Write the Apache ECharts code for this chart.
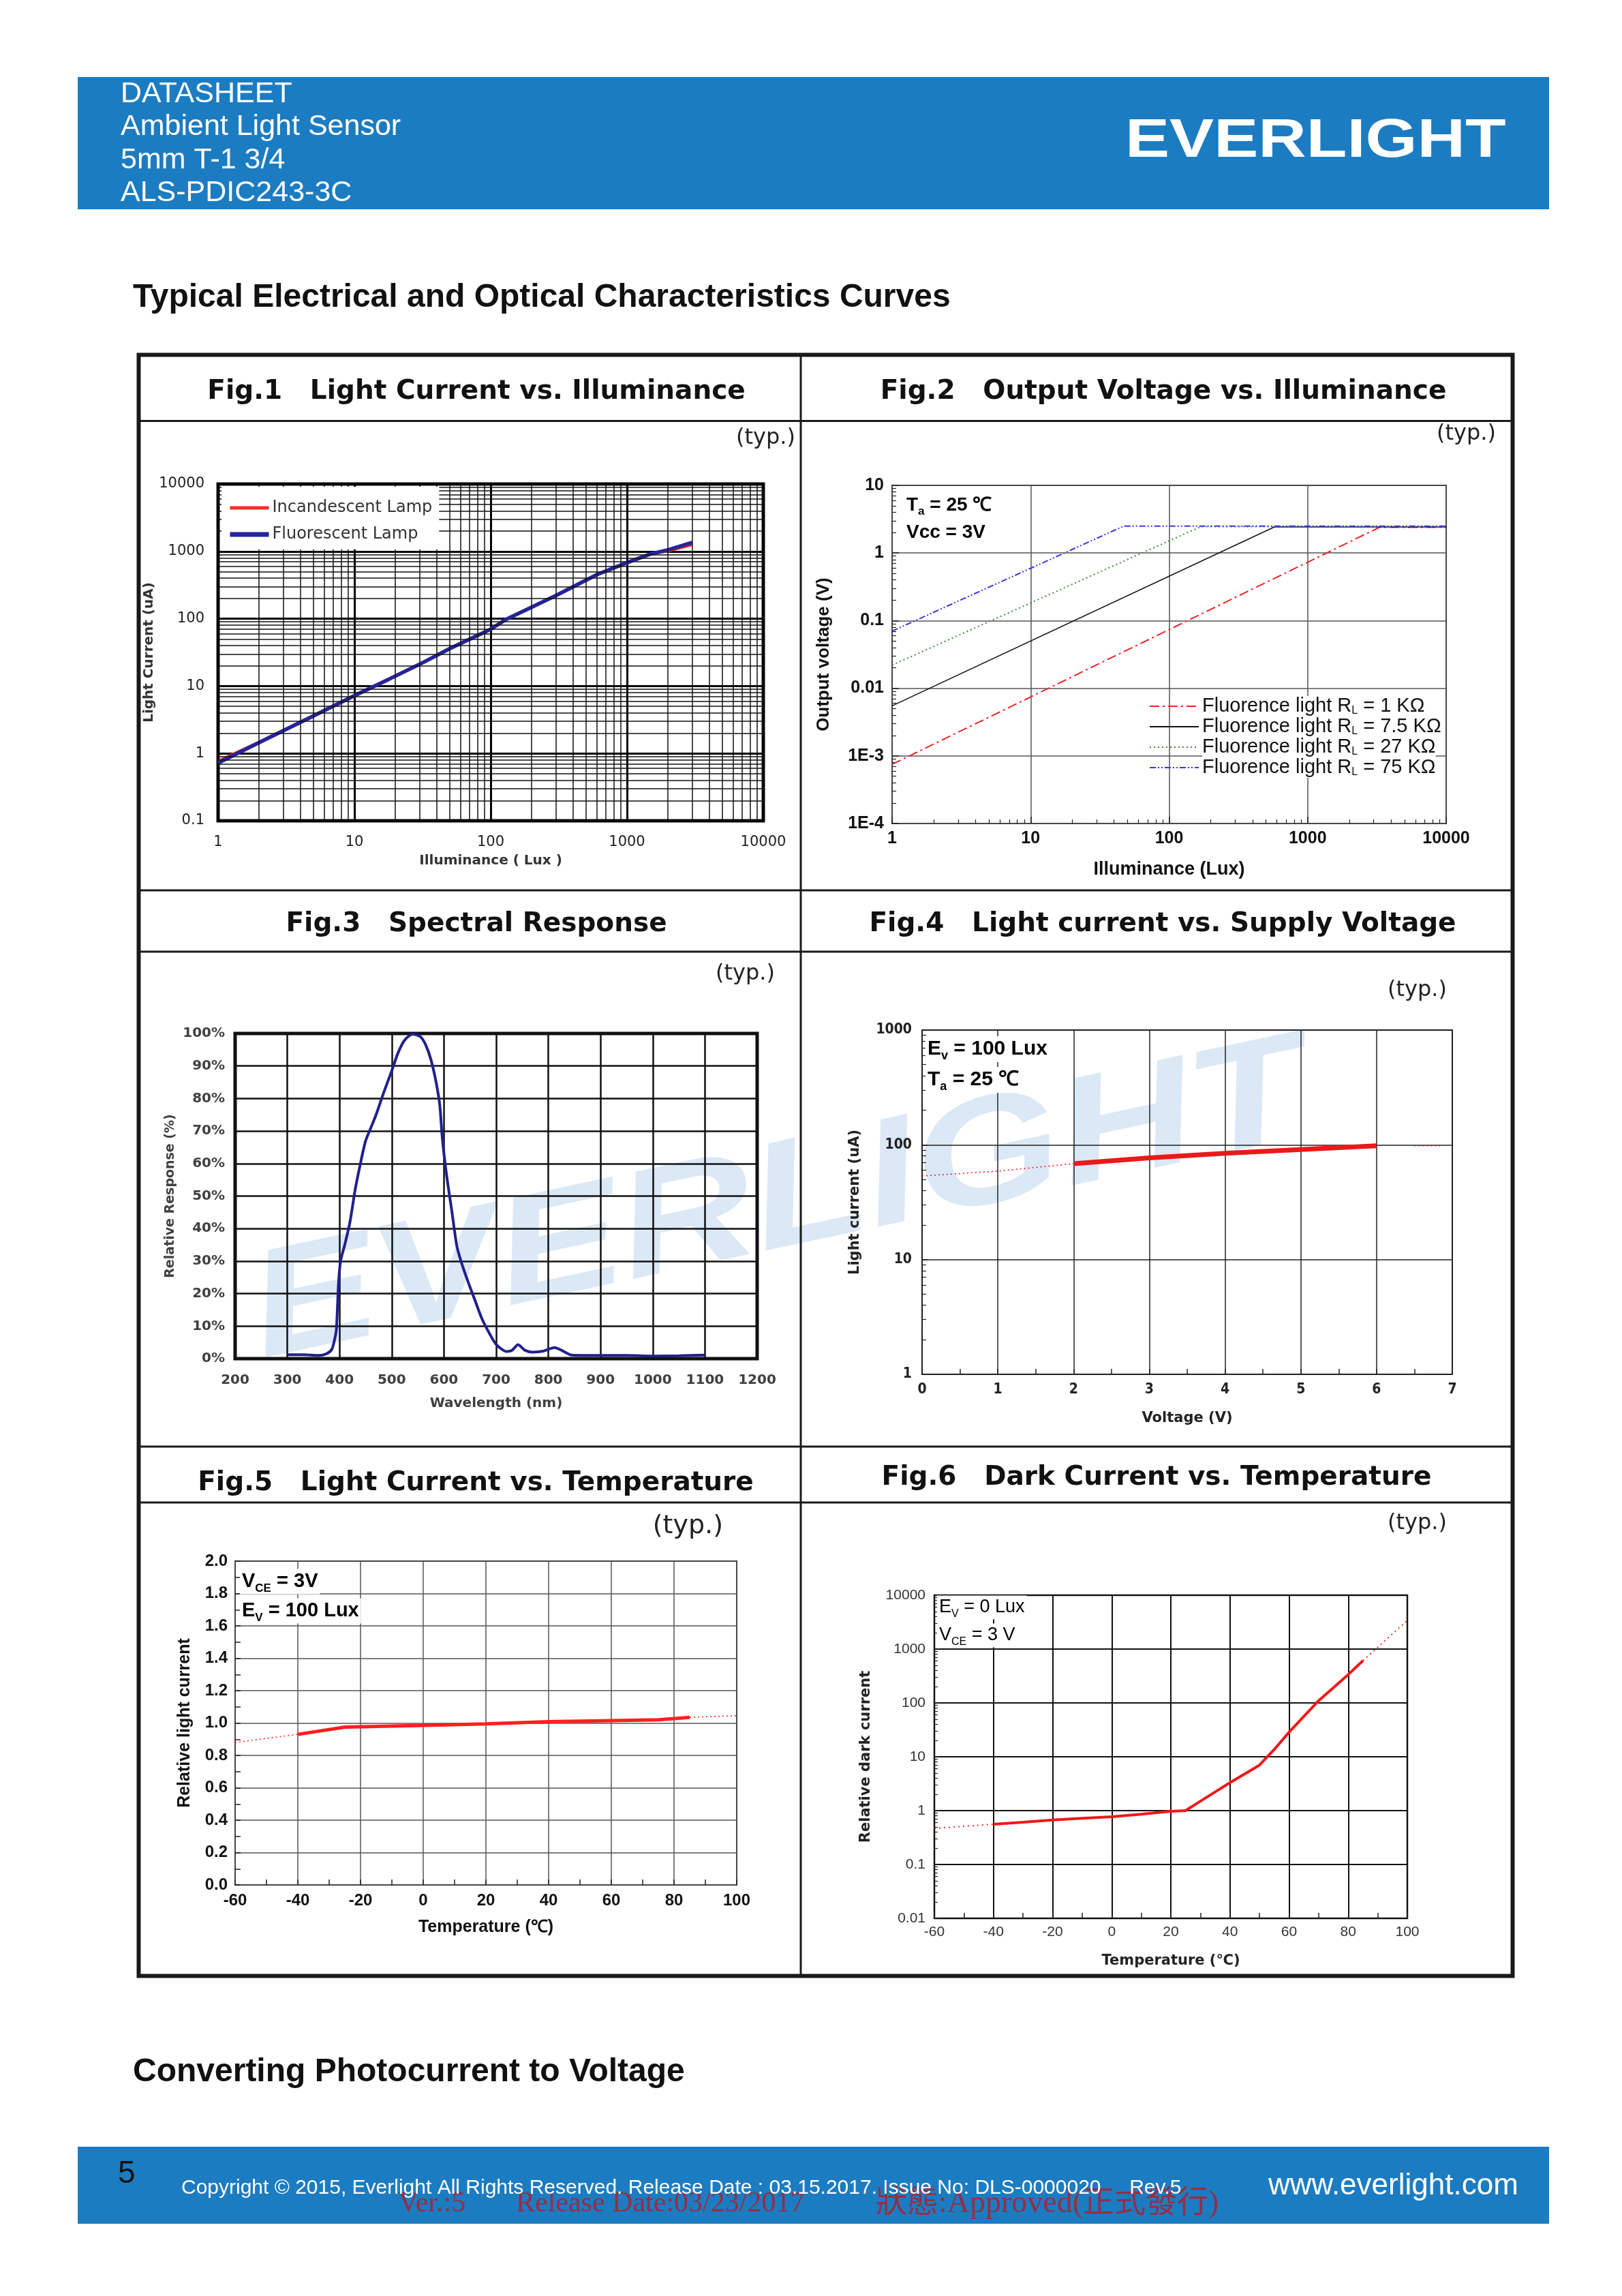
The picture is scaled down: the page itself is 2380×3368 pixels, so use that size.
<!DOCTYPE html>
<html><head><meta charset="utf-8">
<script src="https://cdn.jsdelivr.net/npm/echarts@6/dist/echarts.min.js"></script>
<style>html,body{margin:0;padding:0;background:#fff}#c{width:2380px;height:3368px}</style>
</head><body><div id="c"></div>
<script>
// ---------------- DATA ----------------
// Fig.1 Light current vs illuminance
const fig1Lux = [1, 2, 5, 10, 18, 30, 50, 100, 130, 300, 600, 1000, 1500, 2000, 3000];
const fig1Incandescent = [0.78, 1.5, 3.7, 7.4, 13, 21.5, 36.5, 71, 99, 222, 450, 690, 900, 1000, 1230];
const fig1Fluorescent = [0.72, 1.45, 3.6, 7.2, 12.7, 21, 36, 70, 98, 220, 450, 680, 920, 1050, 1350];
const fig1XLabels = ['1', '10', '100', '1000', '10000'];
const fig1YLabels = ['0.1', '1', '10', '100', '1000', '10000'];

// Fig.2 Output voltage vs illuminance
const fig2LuxRL1 = [1, 3300, 10000];
const fig2VoltRL1 = [0.00075, 2.4, 2.4];
const fig2LuxRL7_5 = [1, 575, 10000];
const fig2VoltRL7_5 = [0.0055, 2.43, 2.43];
const fig2LuxRL27 = [1, 169, 10000];
const fig2VoltRL27 = [0.022, 2.45, 2.45];
const fig2LuxRL75 = [1, 47, 10000];
const fig2VoltRL75 = [0.07, 2.5, 2.5];
const fig2Names = ['RL1', 'RL7.5', 'RL27', 'RL75'];
const fig2Resist = ['1 KΩ', '7.5 KΩ', '27 KΩ', '75 KΩ'];
const fig2XLabels = ['1', '10', '100', '1000', '10000'];
const fig2YLabels = ['1E-4', '1E-3', '0.01', '0.1', '1', '10'];

// Fig.3 Spectral response
const fig3Wavelength = [300, 330, 360, 375, 385, 390, 394, 398, 402, 410, 420, 430, 440, 450, 460, 470, 485, 500, 512, 525, 540, 555, 565, 575, 585, 592, 597, 605, 615, 625, 635, 647, 660, 673, 687, 700, 720, 730, 742, 755, 770, 790, 812, 825, 845, 870, 900, 950, 1000, 1050, 1100];
const fig3Response = [1.2, 1.2, 1.0, 1.5, 2.8, 5.5, 9, 23, 30, 35, 42, 52, 60, 67, 71, 75, 82, 88.5, 94, 98, 99.8, 99, 96.5, 92, 85, 78, 67.6, 56.5, 45.5, 34.4, 28.8, 23.3, 17.7, 12.2, 7.8, 4.4, 2.2, 2.5, 4.3, 2.6, 2.0, 2.3, 3.4, 2.6, 1.1, 1.0, 1.0, 1.0, 0.8, 0.9, 1.1];

// Fig.4 Light current vs supply voltage
const fig4Voltage = [2, 3, 4, 5, 6];
const fig4Current = [68.5, 77, 84.5, 91, 98];
const fig4DotVoltageL = [0, 1, 2];
const fig4DotCurrentL = [53.5, 59, 68.5];
const fig4DotVoltageR = [6.5, 6.85];
const fig4DotCurrentR = [98, 98];
const fig4YLabels = ['1', '10', '100', '1000'];

// Fig.5 Light current vs temperature
const fig5Temp = [-40, -25, 0, 20, 40, 60, 75, 85];
const fig5Rel = [0.93, 0.975, 0.985, 0.995, 1.008, 1.015, 1.02, 1.035];
const fig5DotTempL = [-60, -40];
const fig5DotRelL = [0.88, 0.93];
const fig5DotTempR = [85, 100];
const fig5DotRelR = [1.035, 1.045];

// Fig.6 Dark current vs temperature
const fig6Temp = [-40, -30, -20, -10, 0, 10, 20, 25, 30, 40, 50, 55, 60, 70, 80, 85];
const fig6Dark = [0.56, 0.61, 0.67, 0.72, 0.77, 0.86, 0.97, 1.0, 1.5, 3.3, 7.0, 13.7, 28.7, 110, 336, 610];
const fig6DotTempL = [-60, -40];
const fig6DotDarkL = [0.47, 0.56];
const fig6DotTempR = [85, 100];
const fig6DotDarkR = [610, 3400];
const fig6YLabels = ['0.01', '0.1', '1', '10', '100', '1000', '10000'];

// ---------------- HELPERS ----------------
const DV = "'DejaVu Sans', sans-serif";
const DVC = "'DejaVu Sans Condensed', 'DejaVu Sans', sans-serif";
const LS = "'Liberation Sans', Arial, sans-serif";
const BLUE = '#1c7cc1';

function zip(xs, ys) { return xs.map((x, i) => [x, ys[i]]); }
function logMinors(minExp, maxExp) {
  const out = [];
  for (let e = minExp; e < maxExp; e++) for (let m = 2; m <= 9; m++) out.push(+(m * Math.pow(10, e)).toPrecision(6));
  return out;
}
function logLabel(labels, minExp) { return v => { const s = labels[Math.round(Math.log10(v)) - minExp]; return s === undefined ? '' : s; }; }
function txt(x, y, text, font, fill, align, extra) {
  const a = align || 'left';
  return Object.assign({ type: 'text', x: x, y: y, silent: true, z: 100,
    style: { text: text, font: font, fill: fill, align: a, textAlign: a, verticalAlign: 'middle', textVerticalAlign: 'middle' } }, extra || {});
}
function richTxt(x, y, text, rich, bg) {
  return { type: 'text', x: x, y: y, silent: true, z: 100,
    style: { text: text, rich: rich, align: 'left', textAlign: 'left', verticalAlign: 'middle', textVerticalAlign: 'middle',
      backgroundColor: bg || 'transparent', padding: bg ? [0, 3, 0, 3] : 0 } };
}
function hline(y, x1, x2, w) { return { type: 'line', silent: true, z: 100, shape: { x1: x1, y1: y, x2: x2, y2: y }, style: { stroke: '#1a1a1a', lineWidth: w } }; }
function vline(x, y1, y2, w) { return { type: 'line', silent: true, z: 100, shape: { x1: x, y1: y1, x2: x, y2: y2 }, style: { stroke: '#1a1a1a', lineWidth: w } }; }

const axisName = (fam, size, color, weight) => ({ fontFamily: fam, fontSize: size, color: color, fontWeight: weight || 'bold' });

// ---------------- GRIDS ----------------
const grids = [
  { left: 320, top: 710, width: 800, height: 494, show: true, borderColor: '#111', borderWidth: 5, backgroundColor: 'transparent' },
  { left: 1309, top: 712, width: 813, height: 496, show: true, borderColor: '#222', borderWidth: 2, backgroundColor: 'transparent' },
  { left: 345, top: 1516, width: 766, height: 477, show: true, borderColor: '#111', borderWidth: 5, backgroundColor: 'transparent' },
  { left: 1353, top: 1511, width: 778, height: 505, show: true, borderColor: '#222', borderWidth: 2, backgroundColor: 'transparent' },
  { left: 345, top: 2290, width: 736, height: 475, show: true, borderColor: '#222', borderWidth: 2, backgroundColor: 'transparent' },
  { left: 1371, top: 2340, width: 694, height: 474, show: true, borderColor: '#222', borderWidth: 2.5, backgroundColor: 'transparent' }
].map(g => Object.assign({ outerBoundsMode: 'none', containLabel: false }, g));

const noLine = { show: false, onZero: false };

const xAxes = [
  { gridIndex: 0, type: 'log', logBase: 10, min: 1, max: 10000, axisLine: noLine, axisTick: { show: false },
    splitLine: { show: true, lineStyle: { color: '#000', width: 3 } },
    axisLabel: { formatter: logLabel(fig1XLabels, 0), fontFamily: DV, fontSize: 21, color: '#222', margin: 21 },
    name: 'Illuminance ( Lux )', nameLocation: 'middle', nameGap: 49, nameTextStyle: axisName(DV, 20, '#333') },
  { gridIndex: 1, type: 'log', logBase: 10, min: 1, max: 10000, axisLine: noLine,
    axisTick: { show: true, inside: true, length: 10, lineStyle: { color: '#222', width: 1.5 } },
    minorTick: { show: true, splitNumber: 9, length: 6, lineStyle: { color: '#222', width: 1.2 } },
    splitLine: { show: true, lineStyle: { color: '#555', width: 1.5 } },
    axisLabel: { formatter: logLabel(fig2XLabels, 0), fontFamily: LS, fontWeight: 'bold', fontSize: 25, color: '#111', margin: 10 },
    name: 'Illuminance (Lux)', nameLocation: 'middle', nameGap: 54, nameTextStyle: axisName(LS, 27, '#111') },
  { gridIndex: 2, type: 'value', min: 200, max: 1200, interval: 100, axisLine: noLine, axisTick: { show: false },
    splitLine: { show: true, lineStyle: { color: '#111', width: 2.5 } },
    axisLabel: { formatter: v => String(v), fontFamily: DV, fontWeight: 'bold', fontSize: 20, color: '#404040', margin: 22 },
    name: 'Wavelength (nm)', nameLocation: 'middle', nameGap: 56, nameTextStyle: axisName(DV, 20, '#404040') },
  { gridIndex: 3, type: 'value', min: 0, max: 7, interval: 1, axisLine: noLine,
    axisTick: { show: true, inside: true, length: 8, lineStyle: { color: '#222', width: 1.5 } },
    minorTick: { show: true, splitNumber: 2, length: 8, lineStyle: { color: '#222', width: 1.5 } },
    splitLine: { show: true, lineStyle: { color: '#222', width: 1.5 } },
    axisLabel: { fontFamily: DVC, fontWeight: 'bold', fontSize: 21, color: '#222', margin: 12 },
    name: 'Voltage (V)', nameLocation: 'middle', nameGap: 54, nameTextStyle: axisName(DV, 21, '#222') },
  { gridIndex: 4, type: 'value', min: -60, max: 100, interval: 20, axisLine: noLine,
    axisTick: { show: true, inside: true, length: 8, lineStyle: { color: '#222', width: 1.5 } },
    minorTick: { show: true, splitNumber: 2, length: 8, lineStyle: { color: '#222', width: 1.5 } },
    splitLine: { show: true, lineStyle: { color: '#555', width: 1.5 } },
    axisLabel: { fontFamily: LS, fontWeight: 'bold', fontSize: 24, color: '#111', margin: 11 },
    name: 'Temperature (℃)', nameLocation: 'middle', nameGap: 50, nameTextStyle: axisName(LS, 25, '#111') },
  { gridIndex: 5, type: 'value', min: -60, max: 100, interval: 20, axisLine: noLine,
    axisTick: { show: true, inside: true, length: 8, lineStyle: { color: '#222', width: 1.5 } },
    minorTick: { show: true, splitNumber: 2, length: 8, lineStyle: { color: '#222', width: 1.5 } },
    splitLine: { show: true, lineStyle: { color: '#111', width: 2 } },
    axisLabel: { fontFamily: LS, fontSize: 21, color: '#333', margin: 10 },
    name: 'Temperature (℃)', nameLocation: 'middle', nameGap: 52, nameTextStyle: axisName(DV, 21, '#222') }
];

const yAxes = [
  { gridIndex: 0, type: 'log', logBase: 10, min: 0.1, max: 10000, axisLine: noLine, axisTick: { show: false },
    splitLine: { show: true, lineStyle: { color: '#000', width: 3 } },
    axisLabel: { formatter: logLabel(fig1YLabels, -1), fontFamily: DV, fontSize: 21, color: '#222', margin: 20 },
    name: 'Light Current (uA)', nameLocation: 'middle', nameGap: 71, nameTextStyle: axisName(DV, 20, '#333') },
  { gridIndex: 1, type: 'log', logBase: 10, min: 0.0001, max: 10, axisLine: noLine,
    axisTick: { show: true, inside: true, length: 10, lineStyle: { color: '#222', width: 1.5 } },
    minorTick: { show: true, splitNumber: 9, length: 6, lineStyle: { color: '#222', width: 1.2 } },
    splitLine: { show: true, lineStyle: { color: '#555', width: 1.5 } },
    axisLabel: { formatter: logLabel(fig2YLabels, -4), fontFamily: LS, fontWeight: 'bold', fontSize: 25, color: '#111', margin: 12 },
    name: 'Output voltage (V)', nameLocation: 'middle', nameGap: 87, nameTextStyle: axisName(LS, 26, '#111') },
  { gridIndex: 2, type: 'value', min: 0, max: 100, interval: 10, axisLine: noLine, axisTick: { show: false },
    splitLine: { show: true, lineStyle: { color: '#111', width: 2.5 } },
    axisLabel: { formatter: '{value}%', fontFamily: DV, fontWeight: 'bold', fontSize: 20, color: '#404040', margin: 15 },
    name: 'Relative Response (%)', nameLocation: 'middle', nameGap: 85, nameTextStyle: axisName(DV, 19, '#404040') },
  { gridIndex: 3, type: 'log', logBase: 10, min: 1, max: 1000, axisLine: noLine,
    axisTick: { show: true, inside: true, length: 8, lineStyle: { color: '#222', width: 1.5 } },
    minorTick: { show: true, splitNumber: 9, length: 6, lineStyle: { color: '#222', width: 1.2 } },
    splitLine: { show: true, lineStyle: { color: '#222', width: 1.5 } },
    axisLabel: { formatter: logLabel(fig4YLabels, 0), fontFamily: DVC, fontWeight: 'bold', fontSize: 21, color: '#222', margin: 15 },
    name: 'Light current (uA)', nameLocation: 'middle', nameGap: 88, nameTextStyle: axisName(DV, 21, '#222') },
  { gridIndex: 4, type: 'value', min: 0, max: 2, interval: 0.2, axisLine: noLine,
    axisTick: { show: true, inside: true, length: 8, lineStyle: { color: '#222', width: 1.5 } },
    minorTick: { show: true, splitNumber: 2, length: 8, lineStyle: { color: '#222', width: 1.5 } },
    splitLine: { show: true, lineStyle: { color: '#555', width: 1.5 } },
    axisLabel: { formatter: v => v.toFixed(1), fontFamily: LS, fontWeight: 'bold', fontSize: 24, color: '#111', margin: 11 },
    name: 'Relative light current', nameLocation: 'middle', nameGap: 61, nameTextStyle: axisName(LS, 25, '#111') },
  { gridIndex: 5, type: 'log', logBase: 10, min: 0.01, max: 10000, axisLine: noLine,
    axisTick: { show: true, inside: true, length: 8, lineStyle: { color: '#222', width: 1.5 } },
    minorTick: { show: true, splitNumber: 9, length: 5, lineStyle: { color: '#222', width: 1.2 } },
    splitLine: { show: true, lineStyle: { color: '#111', width: 2 } },
    axisLabel: { formatter: logLabel(fig6YLabels, -2), fontFamily: LS, fontSize: 21, color: '#333', margin: 13 },
    name: 'Relative dark current', nameLocation: 'middle', nameGap: 90, nameTextStyle: axisName(DV, 21, '#222') }
];

// ---------------- SERIES ----------------
function lineS(name, xi, data, color, width, type, z, extra) {
  return Object.assign({ name: name, type: 'line', xAxisIndex: xi, yAxisIndex: xi, data: data, symbol: 'none', showSymbol: false,
    silent: true, z: z || 3, color: color, lineStyle: { color: color, width: width, type: type || 'solid' },
    emphasis: { disabled: true } }, extra || {});
}

const series = [
  { name: 'fig1Grid', type: 'line', xAxisIndex: 0, yAxisIndex: 0, data: [], z: 1, silent: true, symbol: 'none',
    markLine: { silent: true, symbol: ['none', 'none'], label: { show: false }, animation: false,
      lineStyle: { color: '#111', width: 1.5, type: 'solid' }, emphasis: { disabled: true },
      data: logMinors(0, 4).map(v => ({ xAxis: v })).concat(logMinors(-1, 4).map(v => ({ yAxis: v }))) } },
  lineS('Incandescent Lamp', 0, zip(fig1Lux, fig1Incandescent), '#ff2b2b', 3, 'solid', 3),
  lineS('Fluorescent Lamp', 0, zip(fig1Lux, fig1Fluorescent), '#26249a', 5.5, 'solid', 4),

  lineS('RL1', 1, zip(fig2LuxRL1, fig2VoltRL1), '#e8262a', 2, [14, 5, 3, 5], 3),
  lineS('RL7.5', 1, zip(fig2LuxRL7_5, fig2VoltRL7_5), '#111111', 1.6, 'solid', 3),
  lineS('RL27', 1, zip(fig2LuxRL27, fig2VoltRL27), '#3a8a3a', 2, [2, 4], 3),
  lineS('RL75', 1, zip(fig2LuxRL75, fig2VoltRL75), '#3838e0', 2, [9, 3, 2, 3, 2, 3], 3),

  lineS('Spectral', 2, zip(fig3Wavelength, fig3Response), '#20208c', 4, 'solid', 3, { smooth: 0.25 }),

  lineS('fig4Solid', 3, zip(fig4Voltage, fig4Current), '#ea1a1a', 7, 'solid', 4),
  lineS('fig4DotL', 3, zip(fig4DotVoltageL, fig4DotCurrentL), '#ea1a1a', 1.6, [2, 4], 3),
  lineS('fig4DotR', 3, zip(fig4DotVoltageR, fig4DotCurrentR), '#ea1a1a', 1.6, [2, 4], 3),

  lineS('fig5Solid', 4, zip(fig5Temp, fig5Rel), '#ff1f1f', 5, 'solid', 4),
  lineS('fig5DotL', 4, zip(fig5DotTempL, fig5DotRelL), '#ff1f1f', 1.6, [2, 4], 3),
  lineS('fig5DotR', 4, zip(fig5DotTempR, fig5DotRelR), '#ff1f1f', 1.6, [2, 4], 3),

  lineS('fig6Solid', 5, zip(fig6Temp, fig6Dark), '#f01818', 4, 'solid', 4),
  lineS('fig6DotL', 5, zip(fig6DotTempL, fig6DotDarkL), '#f01818', 1.8, [2, 5], 3),
  lineS('fig6DotR', 5, zip(fig6DotTempR, fig6DotDarkR), '#f01818', 1.8, [2, 5], 3)
];

// ---------------- LEGENDS ----------------
const legends = [
  { data: [{ name: 'Incandescent Lamp', lineStyle: { width: 5, color: '#ff2b2b' } },
           { name: 'Fluorescent Lamp', lineStyle: { width: 7, color: '#26249a' } }],
    orient: 'vertical', left: 325, top: 714, z: 60,
    padding: [19, 10, 10, 9], itemGap: 15, itemWidth: 57, itemHeight: 24, backgroundColor: '#ffffff',
    itemStyle: { opacity: 0 }, selectedMode: false, textStyle: { fontFamily: DV, fontSize: 24, color: '#333' } },
  { data: fig2Names, orient: 'vertical', left: 1686, top: 1021, padding: 0, itemGap: 0, itemWidth: 72, itemHeight: 20, z: 60,
    itemStyle: { opacity: 0 }, selectedMode: false,
    formatter: n => '{a|Fluorence light R}{s|L}{a| = ' + fig2Resist[fig2Names.indexOf(n)] + '}',
    textStyle: { backgroundColor: '#ffffff',
      rich: { a: { fontFamily: LS, fontSize: 29, color: '#111', lineHeight: 30, verticalAlign: 'middle' },
              s: { fontFamily: LS, fontSize: 16, color: '#111', lineHeight: 30, verticalAlign: 'bottom' } } } }
];

// ---------------- GRAPHICS ----------------
const titleFont = 'bold 39px "DejaVu Sans"';
const typFont = '32px "DejaVu Sans"';
const subRich = (size, weight, fam) => ({
  m: { fontFamily: fam, fontSize: size, fontWeight: weight, color: '#111', lineHeight: size + 8, verticalAlign: 'middle' },
  s: { fontFamily: fam, fontSize: Math.round(size * 0.6), fontWeight: weight, color: '#111', lineHeight: size + 8, verticalAlign: 'bottom' }
});
const redFont = '42px "Liberation Serif", "Noto Sans CJK TC"';
const redFill = 'rgba(190,20,30,0.75)';

const elements = [
  // watermark
  { type: 'text', x: 372, y: 1932, rotation: 0.21, scaleX: 1.3, scaleY: 1.05, silent: true, z: -10,
    style: { text: 'EVERLIGHT', font: 'italic bold 212px "Liberation Sans"', fill: '#dbe8f5', align: 'left', textAlign: 'left', verticalAlign: 'middle', textVerticalAlign: 'middle' } },
  // header band
  { type: 'rect', silent: true, z: 90, shape: { x: 114, y: 113, width: 2159, height: 194 }, style: { fill: BLUE } },
  txt(177, 138, 'DATASHEET', '43px "Liberation Sans"', '#fff'),
  txt(177, 186, 'Ambient Light Sensor', '43px "Liberation Sans"', '#fff'),
  txt(177, 235, '5mm T-1 3/4', '43px "Liberation Sans"', '#fff'),
  txt(177, 283, 'ALS-PDIC243-3C', '43px "Liberation Sans"', '#fff'),
  txt(1651, 208, 'EVERLIGHT', 'bold 80px "Liberation Sans"', '#fff', 'left', { scaleX: 1.22 }),
  // section headings
  txt(195, 437, 'Typical Electrical and Optical Characteristics Curves', 'bold 48px "Liberation Sans"', '#111'),
  txt(195, 3040, 'Converting Photocurrent to Voltage', 'bold 48px "Liberation Sans"', '#111'),
  // table
  { type: 'rect', silent: true, z: 100, shape: { x: 203.5, y: 520.5, width: 2016, height: 2378 }, style: { fill: 'none', stroke: '#1a1a1a', lineWidth: 6 } },
  vline(1175, 520, 2898, 3),
  hline(617.5, 203, 2219, 3), hline(1306, 203, 2219, 3), hline(1396, 203, 2219, 3), hline(2122, 203, 2219, 3), hline(2204, 203, 2219, 3),
  // titles
  txt(699, 575, 'Fig.1   Light Current vs. Illuminance', titleFont, '#111', 'center'),
  txt(1707, 575, 'Fig.2   Output Voltage vs. Illuminance', titleFont, '#111', 'center'),
  txt(699, 1356, 'Fig.3   Spectral Response', titleFont, '#111', 'center'),
  txt(1706, 1356, 'Fig.4   Light current vs. Supply Voltage', titleFont, '#111', 'center'),
  txt(698, 2176, 'Fig.5   Light Current vs. Temperature', titleFont, '#111', 'center'),
  txt(1697, 2168, 'Fig.6   Dark Current vs. Temperature', titleFont, '#111', 'center'),
  // (typ.)
  txt(1167, 643, '(typ.)', typFont, '#222', 'right'),
  txt(2195, 637, '(typ.)', typFont, '#222', 'right'),
  txt(1137, 1429, '(typ.)', typFont, '#222', 'right'),
  txt(2123, 1453, '(typ.)', typFont, '#222', 'right'),
  txt(1061, 2239, '(typ.)', '38px "DejaVu Sans"', '#222', 'right'),
  txt(2123, 2235, '(typ.)', typFont, '#222', 'right'),
  // annotations
  richTxt(1330, 741, '{m|T}{s|a}{m| = 25 ℃}', subRich(28, 'bold', LS)),
  richTxt(1330, 781, '{m|Vcc = 3V}', subRich(28, 'bold', LS)),
  richTxt(1358, 1539, '{m|E}{s|v}{m| = 100 Lux}', subRich(30, 'bold', LS), '#fff'),
  richTxt(1358, 1584, '{m|T}{s|a}{m| = 25 ℃}', subRich(30, 'bold', LS), '#fff'),
  richTxt(352, 2320, '{m|V}{s|CE}{m| = 3V}', subRich(29, 'bold', LS), '#fff'),
  richTxt(352, 2363, '{m|E}{s|V}{m| = 100 Lux}', subRich(29, 'bold', LS), '#fff'),
  richTxt(1375, 2358, '{m|E}{s|V}{m| = 0 Lux}', subRich(27, 'normal', LS), '#fff'),
  richTxt(1375, 2399, '{m|V}{s|CE}{m| = 3 V}', subRich(27, 'normal', LS), '#fff'),
  // footer
  { type: 'rect', silent: true, z: 90, shape: { x: 114, y: 3149, width: 2159, height: 113 }, style: { fill: BLUE } },
  txt(173, 3189, '5', '46px "Liberation Sans"', '#111'),
  txt(584, 3233, 'Ver.:5', redFont, redFill),
  txt(757, 3233, 'Release Date:03/23/2017', redFont, redFill),
  txt(1285, 3233, '狀態:Approved(正式發行)', '46px "Liberation Serif", "Noto Sans CJK TC"', redFill),
  txt(266, 3210, 'Copyright © 2015, Everlight All Rights Reserved. Release Date : 03.15.2017. Issue No: DLS-0000020     Rev.5', '30px "Liberation Sans"', '#fff'),
  txt(1861, 3207, 'www.everlight.com', '44px "Liberation Sans"', '#fff')
];

const chart = echarts.init(document.getElementById('c'), null, { renderer: 'canvas', width: 2380, height: 3368 });
chart.setOption({
  backgroundColor: '#ffffff',
  animation: false,
  textStyle: { fontFamily: LS },
  tooltip: { show: false },
  grid: grids,
  xAxis: xAxes,
  yAxis: yAxes,
  legend: legends,
  series: series,
  graphic: { elements: elements }
});
</script>
</body></html>
